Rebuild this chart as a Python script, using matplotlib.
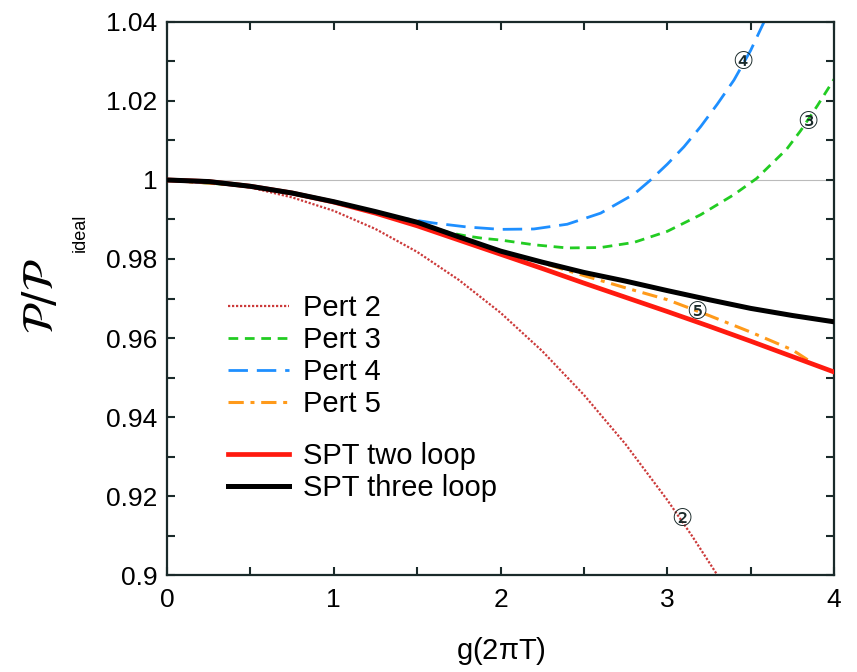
import matplotlib
matplotlib.use("Agg")
import matplotlib.pyplot as plt
from matplotlib.ticker import MultipleLocator

plt.rcParams["font.family"] = ["Liberation Sans", "DejaVu Sans"]
plt.rcParams["mathtext.fontset"] = "dejavusans"

# values
g_grid = [0.0, 0.25, 0.5, 0.75, 1.0, 1.25, 1.5, 1.75, 2.0, 2.25, 2.5,
          2.75, 3.0, 3.25, 3.5, 3.75, 4.0]
spt_three = [1.0, 0.9996, 0.9984, 0.9967, 0.9945, 0.9920, 0.9893, 0.9856,
             0.9820, 0.9792, 0.9766, 0.9744, 0.9720, 0.9697, 0.9675,
             0.9657, 0.9641]
spt_two = [1.0, 0.9996, 0.9984, 0.9967, 0.9944, 0.9916, 0.9884, 0.9848,
           0.9812, 0.9776, 0.9739, 0.9703, 0.9667, 0.9630, 0.9592,
           0.9553, 0.9514]

pert2_g = [0.0, 0.25, 0.5, 0.75, 1.0, 1.25, 1.5, 1.75, 2.0, 2.25, 2.5,
           2.75, 3.0, 3.15, 3.32]
pert2 = [1.0, 0.9995, 0.9981, 0.9956, 0.9922, 0.9876, 0.9818, 0.9747,
         0.9664, 0.9567, 0.9456, 0.9331, 0.9190, 0.9098, 0.8987]

pert3_g = [0.0, 0.5, 1.0, 1.25, 1.5, 1.6, 1.7, 1.8, 1.9, 2.0, 2.2, 2.4,
           2.6, 2.8, 3.0, 3.2, 3.4, 3.536, 3.716, 3.8, 3.9, 4.0]
pert3 = [1.0, 0.9984, 0.9945, 0.9920, 0.9890, 0.9879, 0.9866, 0.9858,
         0.9852, 0.9848, 0.9836, 0.9828, 0.9829, 0.9842, 0.9870, 0.9912,
         0.9963, 1.0004, 1.0078, 1.0125, 1.0188, 1.0255]

pert4_g = [0.0, 0.5, 1.0, 1.25, 1.4, 1.6, 1.8, 2.0, 2.2, 2.4, 2.6, 2.8,
           2.9, 3.0, 3.1, 3.2, 3.3, 3.4, 3.5, 3.58]
pert4 = [1.0, 0.9984, 0.9945, 0.9920, 0.9904, 0.9891, 0.9881, 0.9875,
         0.9876, 0.9888, 0.9916, 0.9964, 1.0, 1.0040, 1.0084, 1.0135,
         1.0192, 1.0253, 1.0328, 1.0400]

pert5_g = [0.0, 0.5, 1.0, 1.5, 2.0, 2.25, 2.5, 2.75, 3.0, 3.25, 3.5,
           3.75, 3.87]
pert5 = [1.0, 0.9984, 0.9945, 0.9893, 0.9820, 0.9790, 0.9758, 0.9727,
         0.9697, 0.9657, 0.9615, 0.9570, 0.9537]

# circled order labels: (text, g, value)
order_labels = [("②", 3.09, 0.9142), ("③", 3.84, 1.0147),
                ("④", 3.45, 1.0299), ("⑤", 3.18, 0.9666)]

x_ticks = [0, 1, 2, 3, 4]
y_ticks = [0.9, 0.92, 0.94, 0.96, 0.98, 1.0, 1.02, 1.04]
y_ticklabels = ["0.9", "0.92", "0.94", "0.96", "0.98", "1", "1.02", "1.04"]

fig = plt.figure(figsize=(8.57, 6.72), dpi=100)
ax = fig.add_axes([0.1949, 0.1443, 0.7783, 0.823])

ax.axhline(1.0, color="#bbbbbb", lw=0.8, zorder=1)

p2, = ax.plot(pert2_g, pert2, color="#cc3a3a", lw=1.6, ls=(0, (1, 0.8)),
              label="Pert 2", zorder=2)
p3, = ax.plot(pert3_g, pert3, color="#22cc22", lw=2.0, ls=(0, (3.5, 2.4)),
              label="Pert 3", zorder=2)
p4, = ax.plot(pert4_g, pert4, color="#1e8fff", lw=2.0, ls=(0, (7, 3.2)),
              label="Pert 4", zorder=2)
p5, = ax.plot(pert5_g, pert5, color="#ff9a1a", lw=2.2,
              ls=(0, (5, 2.2, 1.3, 2.2)), label="Pert 5", zorder=2)
s2, = ax.plot(g_grid, spt_two, color="#ff1a0f", lw=3.4,
              label="SPT two loop", zorder=3)
s3, = ax.plot(g_grid, spt_three, color="black", lw=3.6,
              label="SPT three loop", zorder=4)

for txt, gx, val in order_labels:
    ax.text(gx, val, txt, fontsize=17, family="DejaVu Sans",
            ha="center", va="center", color="#1a2a2a", zorder=5)

ax.set_xlim(0, 4)
ax.set_ylim(0.9, 1.04)
ax.set_xticks(x_ticks)
ax.set_xticklabels([str(t) for t in x_ticks])
ax.xaxis.set_minor_locator(MultipleLocator(0.5))
ax.set_yticks(y_ticks)
ax.set_yticklabels(y_ticklabels)
ax.yaxis.set_minor_locator(MultipleLocator(0.01))

ax.tick_params(which="both", direction="in", top=True, right=True,
               length=6, width=1.5, color="#1a2a2a", labelsize=19)
ax.tick_params(axis="x", pad=9)
ax.tick_params(axis="y", pad=7)
for sp in ax.spines.values():
    sp.set_linewidth(1.6)
    sp.set_color("#1a2a2a")

ax.set_xlabel(r"g(2$\mathregular{\pi}$T)", fontsize=21, labelpad=17)
ax.set_ylabel(r"$\mathcal{P}/\mathcal{P}$", fontsize=31)
ax.yaxis.set_label_coords(-0.158, 0.505)
fig.text(80 / 857, 1 - 233 / 672, "ideal", fontsize=13, rotation=90,
         ha="center", va="center")

leg_kw = dict(frameon=False, fontsize=21, loc="upper left", borderpad=0,
              borderaxespad=0, handlelength=2.1, handletextpad=0.48,
              labelspacing=0.14)
leg1 = ax.legend(handles=[p2, p3, p4, p5], bbox_to_anchor=(0.0915, 0.508),
                 **leg_kw)
ax.add_artist(leg1)
ax.legend(handles=[s2, s3], bbox_to_anchor=(0.0915, 0.24), **leg_kw)

fig.savefig("out.png", dpi=100)
